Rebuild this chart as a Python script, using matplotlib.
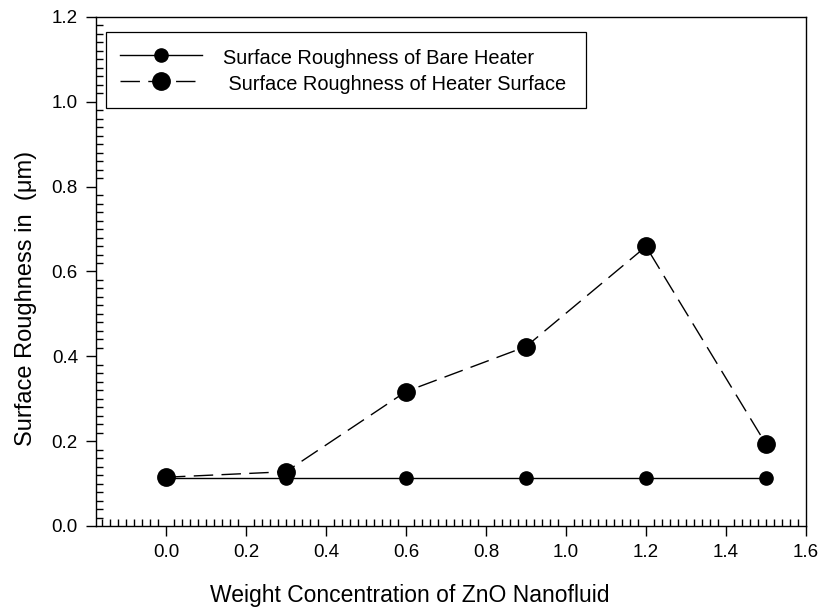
import numpy as np
import matplotlib
matplotlib.use("Agg")
import matplotlib.pyplot as plt
from matplotlib.ticker import MultipleLocator, FormatStrFormatter

plt.rcParams['font.family'] = ['Liberation Sans', 'DejaVu Sans']

# data
conc = [0.0, 0.3, 0.6, 0.9, 1.2, 1.5]
bare_heater = [0.112, 0.112, 0.112, 0.112, 0.112, 0.112]
heater_surface = [0.115, 0.128, 0.317, 0.423, 0.659, 0.193]

label_bare = "Surface Roughness of Bare Heater"
label_surf = " Surface Roughness of Heater Surface "

fig = plt.figure(figsize=(8.22, 6.12), dpi=100)
ax = fig.add_axes([96 / 822, 86 / 612, 710 / 822, 509 / 612])

ax.plot(conc, bare_heater, color='black', lw=1.0, marker='o', ms=9.5,
        label=label_bare, zorder=3)
ax.plot(conc, heater_surface, color='black', lw=1.0, dashes=(14, 6),
        marker='o', ms=12.5, label=label_surf, zorder=4)

ax.set_xlim(-0.175, 1.6)
ax.set_ylim(0, 1.2)
ax.set_xticks(np.arange(0, 1.61, 0.2))
ax.xaxis.set_minor_locator(MultipleLocator(0.02))
ax.yaxis.set_major_locator(MultipleLocator(0.2))
ax.yaxis.set_minor_locator(MultipleLocator(0.02))
ax.xaxis.set_major_formatter(FormatStrFormatter('%.1f'))
ax.yaxis.set_major_formatter(FormatStrFormatter('%.1f'))

ax.tick_params(which='major', direction='out', length=7, width=1.0,
               labelsize=13.5, pad=6)
ax.tick_params(which='minor', direction='in', length=5, width=1.0)
ax.tick_params(top=False, right=False, which='both')
for s in ax.spines.values():
    s.set_linewidth(1.0)

ax.set_xlabel("Weight Concentration of ZnO Nanofluid", fontsize=16.5)
ax.xaxis.set_label_coords(0.442, -0.113)
ax.set_ylabel("Surface Roughness in  (\u03bcm)", fontsize=17)
ax.yaxis.set_label_coords(-0.083, 0.448)

leg = ax.legend(loc='upper left', bbox_to_anchor=(105.7 / 822, 1 - 32 / 612),
                bbox_transform=fig.transFigure, borderaxespad=0,
                fontsize=14.4, handlelength=4.1, handletextpad=1.05,
                handleheight=1.3, labelspacing=0.2, borderpad=0.72,
                fancybox=False, framealpha=1, edgecolor='black')
leg.get_frame().set_linewidth(0.9)

fig.savefig("out.png", dpi=100)
